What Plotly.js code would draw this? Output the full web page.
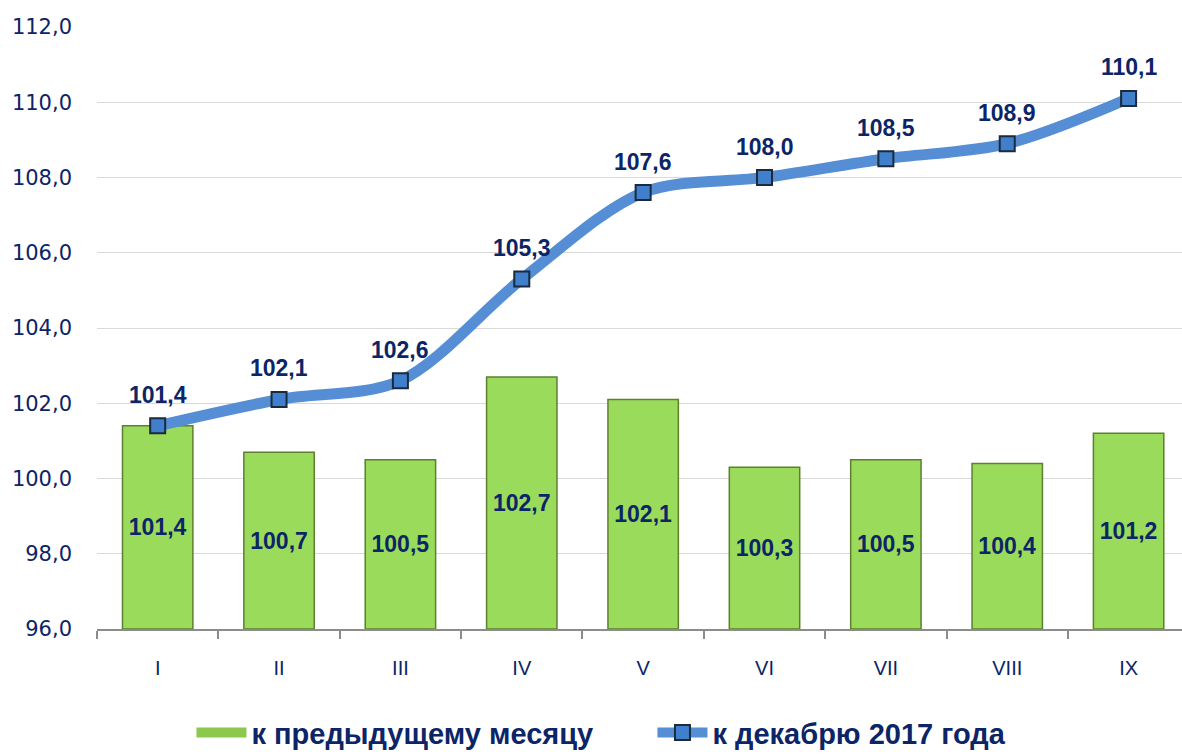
<!DOCTYPE html>
<html>
<head>
<meta charset="utf-8">
<script src="https://cdn.plot.ly/plotly-3.0.1.min.js"></script>
<style>html,body{margin:0;padding:0;background:#fff;}#chart{width:1182px;height:756px;}</style>
</head>
<body>
<div id="chart"></div>
<script>
const categories = ['I','II','III','IV','V','VI','VII','VIII','IX'];
const prevMonth = [101.4, 100.7, 100.5, 102.7, 102.1, 100.3, 100.5, 100.4, 101.2];
const toDec2017 = [101.4, 102.1, 102.6, 105.3, 107.6, 108.0, 108.5, 108.9, 110.1];
const seriesNames = ['к предыдущему месяцу', 'к декабрю 2017 года'];
const yTicks = [96, 98, 100, 102, 104, 106, 108, 110, 112];

const AXIS_MIN = 96;
const navy = '#0B2566';
const green = '#9BDB5B';
const fmt = v => v.toFixed(1).replace('.', ',');
const labelFont = {family: 'Liberation Sans, Arial, sans-serif', size: 23, color: navy, weight: 'bold'};

const bars = {
  type: 'bar',
  name: seriesNames[0],
  showlegend: false,
  x: categories,
  base: AXIS_MIN,
  y: prevMonth.map(v => v - AXIS_MIN),
  text: prevMonth.map(fmt),
  textposition: 'inside',
  insidetextanchor: 'middle',
  textangle: 0,
  constraintext: 'none',
  textfont: labelFont,
  width: 0.58,
  marker: {color: green, line: {color: '#5E7F2E', width: 1.5}},
  hoverinfo: 'skip'
};

// legend swatch for the bar series (wide rectangle like the original)
const barLegend = {
  type: 'scatter',
  mode: 'lines',
  name: seriesNames[0],
  x: [null], y: [null],
  line: {color: '#8CC84B', width: 14},
  hoverinfo: 'skip'
};

const line = {
  type: 'scatter',
  mode: 'lines+markers',
  name: seriesNames[1],
  x: categories,
  y: toDec2017,
  line: {color: '#558ED5', width: 11, shape: 'spline', smoothing: 0.9},
  marker: {symbol: 'square', size: 15, color: '#3F7FCB', line: {color: '#1B2A3C', width: 2}},
  cliponaxis: false,
  hoverinfo: 'skip'
};

const lineLabels = categories.map((c, i) => ({
  x: c, y: toDec2017[i], xref: 'x', yref: 'y',
  text: fmt(toDec2017[i]),
  showarrow: false,
  yshift: 31,
  font: labelFont
}));

const layout = {
  width: 1182, height: 756,
  margin: {l: 97, r: 0, t: 27, b: 127},
  paper_bgcolor: '#ffffff', plot_bgcolor: '#ffffff',
  separators: ',.',
  showlegend: true,
  annotations: lineLabels,
  xaxis: {
    type: 'category',
    range: [-0.5, 8.44],
    showgrid: false,
    showline: true, linecolor: '#8C8C8C', linewidth: 2,
    ticks: 'outside', tickson: 'boundaries', ticklen: 8, tickcolor: '#8C8C8C', tickwidth: 2,
    tickfont: {family: 'Liberation Sans, Arial, sans-serif', size: 20, color: navy},
    ticklabelstandoff: 20,
    fixedrange: true
  },
  yaxis: {
    range: [AXIS_MIN, 112],
    tickvals: yTicks,
    ticktext: yTicks.map(fmt),
    showgrid: true, gridcolor: '#D9D9D9', gridwidth: 1,
    zeroline: false, showline: false,
    ticks: '',
    tickfont: {family: 'DejaVu Sans, Verdana, sans-serif', size: 21, color: navy},
    ticklabelstandoff: 24,
    fixedrange: true
  },
  legend: {
    orientation: 'h',
    xref: 'container', yref: 'container',
    x: 0.552, xanchor: 'center',
    y: 0.031, yanchor: 'middle',
    font: {family: 'Liberation Sans, Arial, sans-serif', size: 29, color: navy, weight: 'bold'},
    itemwidth: 50,
    entrywidth: 396, entrywidthmode: 'pixels',
    traceorder: 'normal'
  }
};

Plotly.newPlot('chart', [bars, barLegend, line], layout, {displayModeBar: false, staticPlot: true});
</script>
</body>
</html>
